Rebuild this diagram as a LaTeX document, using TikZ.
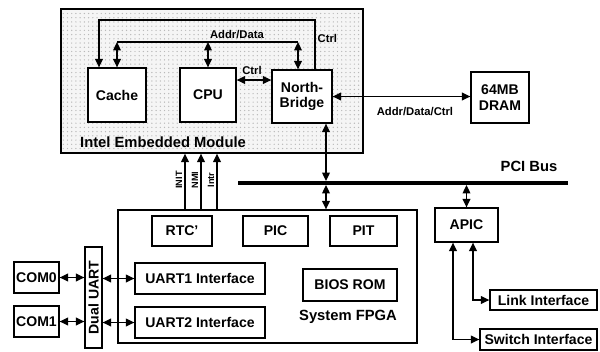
\documentclass[tikz,border=0pt]{standalone}
\usepackage{fontspec}
\setsansfont{Liberation Sans}
\usetikzlibrary{arrows.meta, positioning, calc, patterns}
\tikzset{
  every picture/.style={font=\sffamily\bfseries, line width=0.9pt},
  blk/.style={draw, fill=white, inner sep=1pt, align=center, font=\sffamily\bfseries\fontsize{10}{11}\selectfont},
  txt/.style={inner sep=0pt, font=\sffamily\bfseries\fontsize{10.5}{12}\selectfont},
  lbl/.style={inner sep=0pt, font=\sffamily\bfseries\fontsize{8}{9}\selectfont},
  arr/.style={-{Triangle[length=6pt, width=5.5pt]}},
  dbl/.style={{Triangle[length=6pt, width=5.5pt]}-{Triangle[length=6pt, width=5.5pt]}},
  bus/.style={line width=2.8pt},
}

\begin{document}
\begin{tikzpicture}[x=0.025cm, y=-0.025cm]
  \useasboundingbox (0,0) rectangle (600,351);
  % Intel module and its parts
  \node[draw, minimum width=7.55cm, minimum height=3.6cm, pattern=dots, pattern color=gray!55, preaction={fill=gray!8}] (module) at (212,81) {};
  \node[blk, minimum width=1.45cm, minimum height=1.35cm] (cache) at (117,95) {Cache};
  \node[blk, minimum width=1.4cm, minimum height=1.35cm] (cpu) at (208,95) {CPU};
  \node[blk, minimum width=1.5cm, minimum height=1.325cm] (nb) at (302,96.5) {North-\\Bridge};
  \node[txt] (modname) at (163,142) {Intel Embedded Module};
  \node[blk, minimum width=1.45cm, minimum height=1.275cm] (dram) at (500,97.5) {64MB\\DRAM};

  \coordinate (ctrlbus) at (0,20);
  \coordinate (adbus) at (0,42);
  \coordinate (nbctrl) at ($(nb.north)+(13,0)$);
  \coordinate (cachectrl) at ($(cache.north)+(-18,0)$);
  \coordinate (nbad) at ($(nb.north)+(-4,0)$);
  \draw[arr] (nbctrl) -- (nbctrl |- ctrlbus) -| (cachectrl);
  \node[lbl, anchor=west] at (317,38) {Ctrl};
  \draw (cache.north |- adbus) -- (nbad |- adbus);
  \foreach \n in {cache.north, cpu.north, nbad}
    \draw[dbl] (\n |- adbus) -- (\n);
  \node[lbl] at (237,35) {Addr/Data};
  \coordinate (cpuctrl) at ($(cpu.east)+(0,-15)$);
  \draw[dbl] (cpuctrl) -- (cpuctrl -| nb.west);
  \node[lbl] at (252,70) {Ctrl};
  \draw[dbl] (nb.east) -- (nb.east -| dram.west);
  \node[lbl] at (415,112) {Addr/Data/Ctrl};

  % System FPGA
  \node[draw, minimum width=7.475cm, minimum height=3.325cm] (fpga) at (267.5,276.5) {};
  \node[blk, minimum width=1.5cm, minimum height=0.75cm] (rtc) at (182,231) {RTC'};
  \node[blk, minimum width=1.625cm, minimum height=0.75cm] (pic) at (275.5,231) {PIC};
  \node[blk, minimum width=1.675cm, minimum height=0.75cm] (pit) at (363.5,231) {PIT};
  \node[blk, minimum width=2.35cm, minimum height=0.8cm] (bios) at (350,285) {BIOS ROM};
  \node[blk, minimum width=3.25cm, minimum height=0.775cm] (uart1) at (200,278.5) {UART1 Interface};
  \node[blk, minimum width=3.25cm, minimum height=0.775cm] (uart2) at (200,322.5) {UART2 Interface};
  \node[txt] (fpganame) at (348,317) {System FPGA};

  \foreach \x/\s in {185/INIT, 201/NMI, 217/Intr} {
    \draw[arr] (\x,0 |- fpga.north) -- (\x,0 |- module.south);
    \node[lbl, rotate=90, font=\sffamily\bfseries\fontsize{6.5}{7}\selectfont] at (\x-6,180) {\s};
  }

  % serial ports
  \node[blk, minimum width=0.425cm, minimum height=2.525cm] (dual) at (93.5,297.5) {};
  \node[txt, rotate=90, font=\sffamily\bfseries\fontsize{10}{11}\selectfont] at (dual) {Dual UART};
  \foreach \i/\y in {0/277.5, 1/321.5}
    \node[blk, minimum width=1.125cm, minimum height=0.775cm] (com\i) at (36.5,\y) {COM\i};
  \foreach \i/\j in {0/1, 1/2} {
    \draw[dbl] (com\i.east) -- (com\i.east -| dual.west);
    \draw[dbl] (uart\j.west -| dual.east) -- (uart\j.west);
  }

  % APIC side
  \node[blk, minimum width=1.575cm, minimum height=0.85cm] (apic) at (466.5,225) {APIC};
  \node[blk, minimum width=2.675cm, minimum height=0.5cm] (link) at (543.5,300) {Link Interface};
  \node[blk, minimum width=2.925cm, minimum height=0.525cm] (switch) at (538.5,339.5) {Switch Interface};
  \coordinate (apiclink) at ($(apic.south)+(6.5,0)$);
  \coordinate (apicsw) at ($(apic.south)+(-13.5,0)$);
  \draw[dbl] (apiclink) |- (link.west);
  \draw[dbl] (apicsw) |- (switch.west);

  % PCI bus
  \coordinate (busL) at (238,183);
  \coordinate (busR) at (568,183);
  \coordinate (nbpci) at ($(nb.south)+(24,0)$);
  \draw[dbl, shorten >=1.4pt] (nbpci) -- (nbpci |- busL);
  \draw[dbl, shorten <=1.4pt] (nbpci |- busL) -- (nbpci |- fpga.north);
  \draw[dbl, shorten <=1.4pt] (apic.north |- busL) -- (apic.north);
  \draw[bus] (busL) -- (busR);
  \node[txt] (pciname) at (529,166) {PCI Bus};
\end{tikzpicture}
\end{document}
